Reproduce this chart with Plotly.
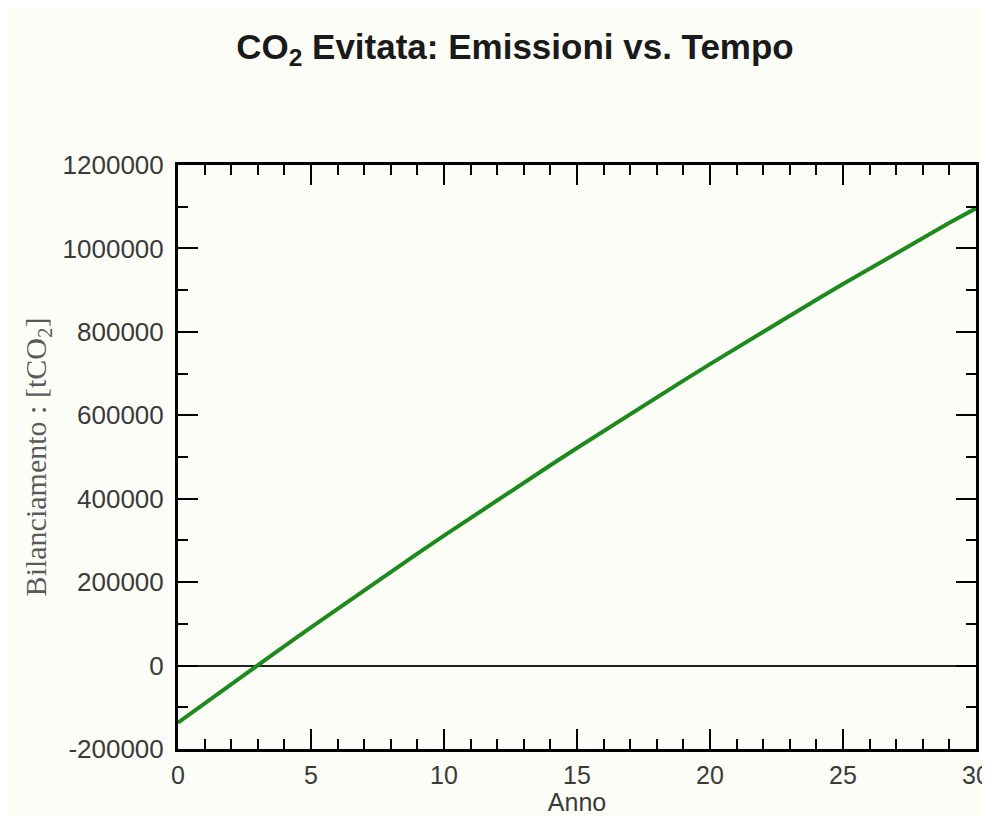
import plotly.graph_objects as go

anni = list(range(0, 31))
bilanciamento = [-137000, -90500, -44400, 1400, 46800, 91800, 136500, 180700, 224600, 268200,
                 311400, 354200, 396600, 438600, 480300, 521700, 562600, 603200, 643400, 683200,
                 722700, 761800, 800500, 838900, 876900, 914500, 951800, 988600, 1025100, 1061300,
                 1096000]
x_ticks = [0, 5, 10, 15, 20, 25, 30]
y_ticks = [-200000, 0, 200000, 400000, 600000, 800000, 1000000, 1200000]

fig = go.Figure()
fig.add_trace(go.Scatter(x=anni, y=bilanciamento, mode="lines",
                         line=dict(color="#1e8a1e", width=4), showlegend=False))

bg = "#fdfdf8"
fig.update_layout(
    width=974, height=808,
    paper_bgcolor=bg, plot_bgcolor=bg,
    margin=dict(l=170, r=6, t=157, b=67, autoexpand=False),
    title=dict(text="<b>CO<sub>2</sub> Evitata: Emissioni vs. Tempo</b>",
               x=0.5205, xanchor="center", yref="container", y=0.952, yanchor="middle",
               font=dict(family="Liberation Sans, Arial", size=35, color="#1a1a1a")),
    font=dict(family="Liberation Sans, Arial", color="#3a3a3a"),
)
fig.update_xaxes(
    range=[0, 30], tickvals=x_ticks, ticktext=[str(v) for v in x_ticks],
    showline=True, linecolor="black", linewidth=3, mirror="allticks",
    ticks="inside", ticklen=20, tickwidth=2, tickcolor="black",
    minor=dict(ticks="inside", ticklen=10, tickwidth=2, tickcolor="black", dtick=1, showgrid=False),
    showgrid=False, zeroline=False, ticklabeloverflow="allow", automargin=False,
    tickfont=dict(size=25, color="#3a3a3a"), ticklabelstandoff=2,
    title=dict(text="Anno", font=dict(size=25, color="#3a3a3a"), standoff=0),
)
fig.update_yaxes(
    range=[-200000, 1200000], tickvals=y_ticks, ticktext=[str(v) for v in y_ticks],
    showline=True, linecolor="black", linewidth=3, mirror="allticks",
    ticks="inside", ticklen=20, tickwidth=2, tickcolor="black",
    minor=dict(ticks="inside", ticklen=10, tickwidth=2, tickcolor="black", dtick=100000, showgrid=False),
    showgrid=False, zeroline=True, zerolinecolor="#222222", zerolinewidth=1.5, automargin=False,
    tickfont=dict(size=26, color="#3a3a3a"), ticklabelstandoff=6,
    title=dict(text="Bilanciamento : [tCO<sub>2</sub>]",
               font=dict(family="Liberation Serif, Times New Roman", size=30, color="#5a5a5a"),
               standoff=8),
)

fig.write_html("out.html")
